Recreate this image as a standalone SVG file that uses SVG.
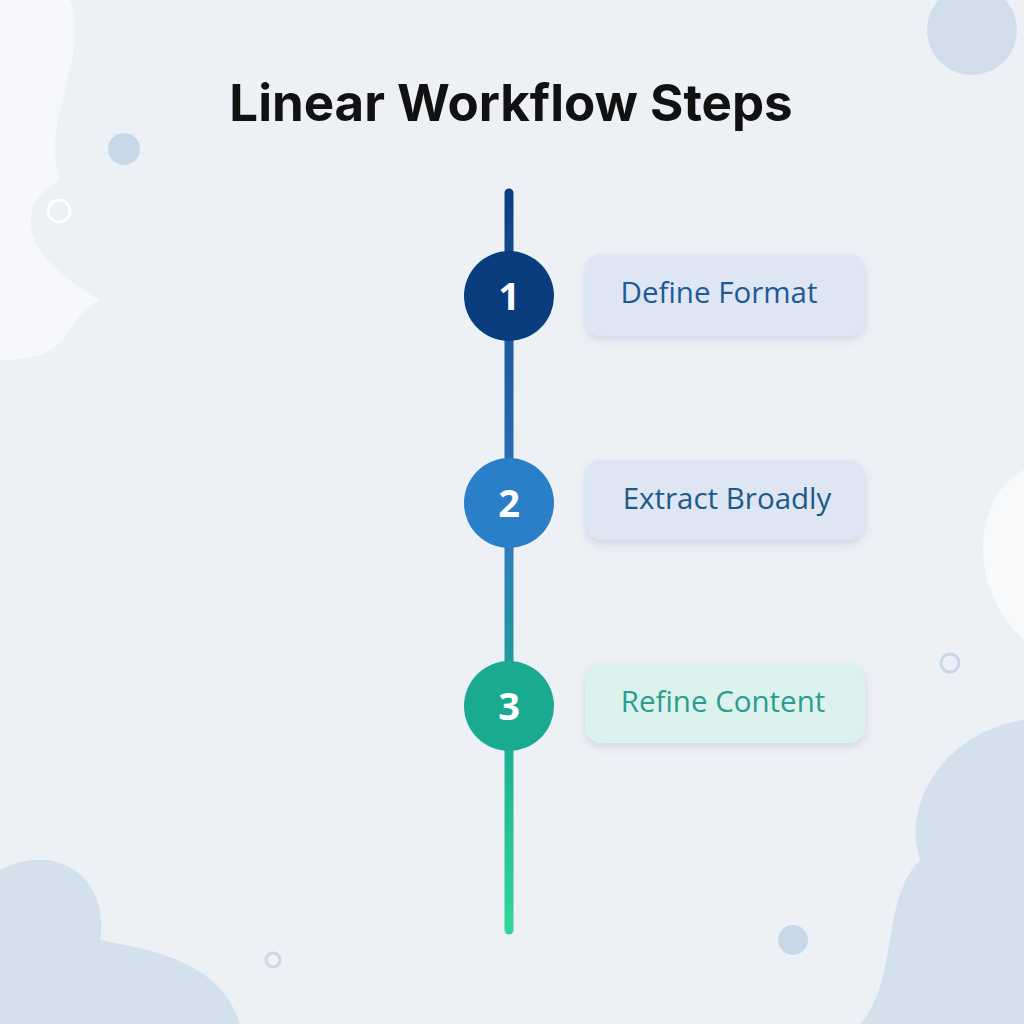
<svg xmlns="http://www.w3.org/2000/svg" width="1024" height="1024" viewBox="0 0 1024 1024">
<defs>
<linearGradient id="lg" x1="0" y1="193" x2="0" y2="930" gradientUnits="userSpaceOnUse">
<stop offset="0" stop-color="#0d3f80"/><stop offset="0.45" stop-color="#2f78c0"/><stop offset="0.7" stop-color="#1aa88f"/><stop offset="1" stop-color="#2fd79a"/>
</linearGradient>
<filter id="sh" x="-20%" y="-20%" width="140%" height="150%"><feDropShadow dx="0" dy="4" stdDeviation="4" flood-color="#8a9bb5" flood-opacity="0.3"/></filter>
<style>
.box{filter:url(#sh)}
.lbl{font-family:"Open Sans","Noto Sans",sans-serif;font-size:29.5px;text-anchor:middle}
.num{font-family:"Open Sans","Noto Sans",sans-serif;font-size:38px;font-weight:bold;fill:#fff;text-anchor:middle}
.deco{fill:#c9d8e8}
</style>
</defs>
<rect width="1024" height="1024" fill="#edf1f6"/>
<path d="M0 0 H70 C90 60 40 120 60 180 C20 200 10 250 100 300 C60 320 80 360 0 360 Z" fill="#f6f8fb"/>
<path d="M1024 470 C980 490 960 580 1024 640 Z" fill="#f8f9fb"/>
<path d="M0 870 C60 840 110 880 100 940 C150 950 220 960 240 1024 H0 Z" class="deco" opacity="0.7"/>
<path d="M1024 720 C950 730 900 800 920 860 C880 900 900 980 860 1024 H1024 Z" class="deco" opacity="0.7"/>
<circle cx="972" cy="30" r="45" class="deco" opacity="0.8"/>
<circle cx="124" cy="149" r="16" class="deco"/>
<circle cx="793" cy="940" r="15" class="deco"/>
<circle cx="59" cy="211" r="11" fill="none" stroke="#fff" stroke-width="3"/>
<circle cx="950" cy="663" r="9" fill="none" stroke="#c9d8e8" stroke-width="3"/>
<circle cx="273" cy="960" r="7" fill="none" stroke="#c9d8e8" stroke-width="3"/>
<text x="511" y="121" font-family="Inter,'Noto Sans',sans-serif" font-size="51" font-weight="bold" text-anchor="middle" fill="#111">Linear Workflow Steps</text>
<g id="connectors"><line x1="509" y1="193" x2="509" y2="930" stroke="url(#lg)" stroke-width="9" stroke-linecap="round"/></g>
<g id="step1"><circle cx="509" cy="296" r="45" fill="#0a3d7e"/><text class="num" x="509" y="310">1</text>
<rect class="box" x="585" y="254" width="280" height="82" rx="16" fill="#dde6f2"/><text class="lbl" x="719" y="303" fill="#1d5a96">Define Format</text></g>
<g id="step2"><circle cx="509" cy="503" r="45" fill="#2b7fc9"/><text class="num" x="509" y="517">2</text>
<rect class="box" x="585" y="460" width="280" height="80" rx="16" fill="#dde6f2"/><text class="lbl" x="727" y="509" fill="#1e5a88">Extract Broadly</text></g>
<g id="step3"><circle cx="509" cy="706" r="45" fill="#1aaa8f"/><text class="num" x="509" y="720">3</text>
<rect class="box" x="585" y="663" width="280" height="80" rx="16" fill="#dcf2ef"/><text class="lbl" x="723" y="712" fill="#2a9e8a">Refine Content</text></g>
</svg>
